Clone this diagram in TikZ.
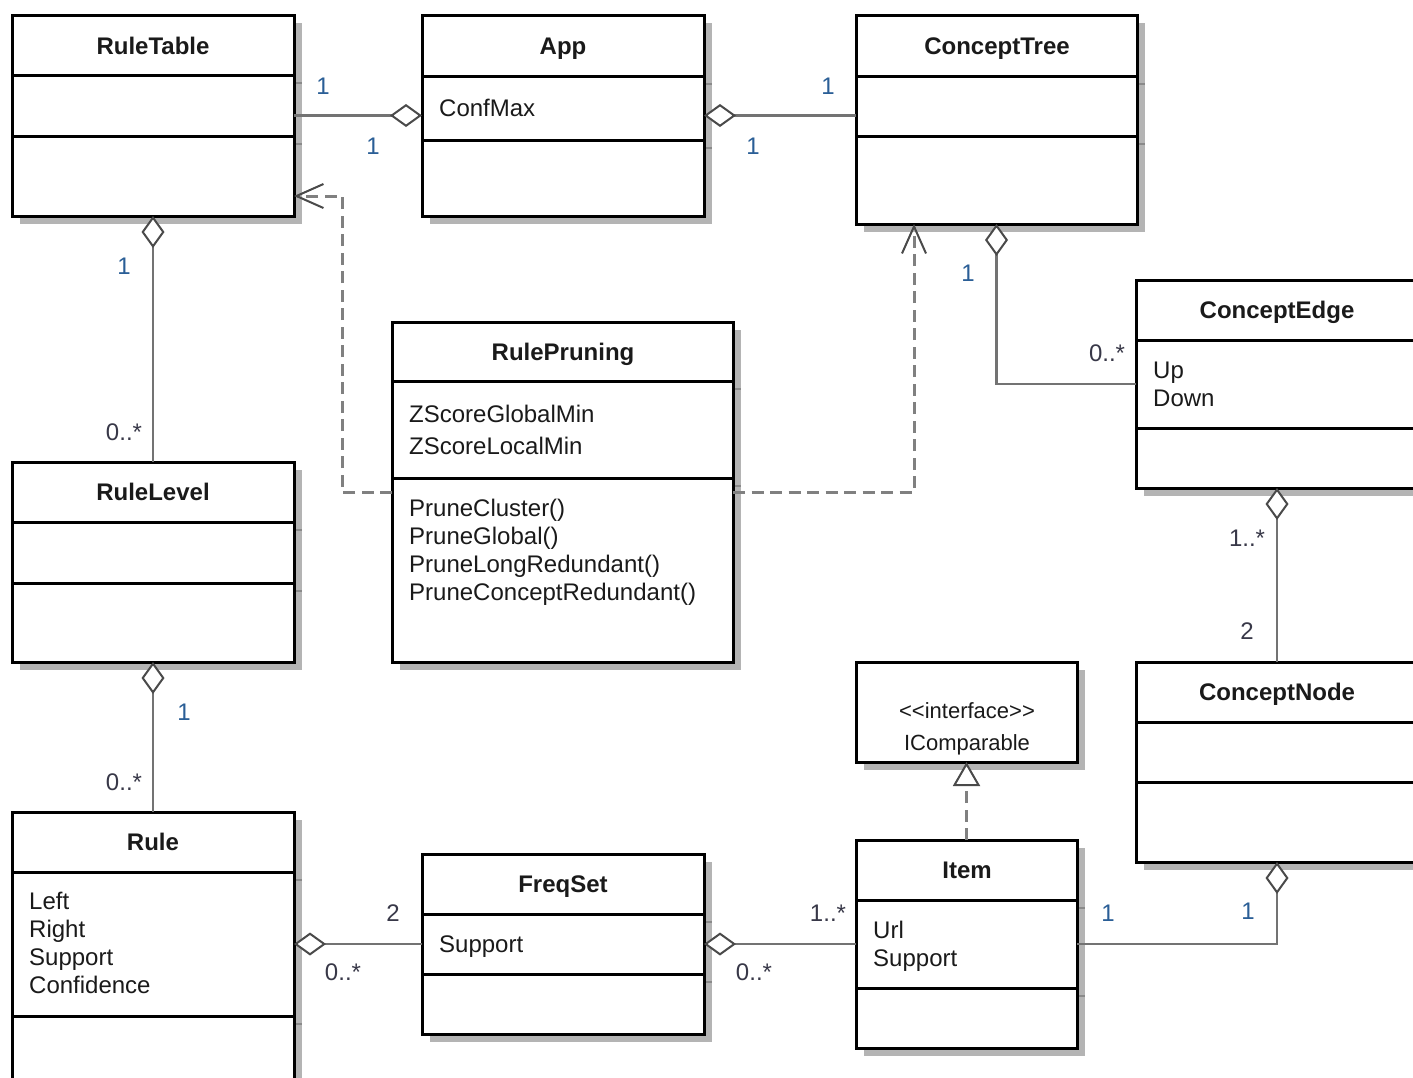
\documentclass[tikz,border=0pt]{standalone}
\usepackage{fontspec}
\setmainfont{Liberation Sans}
\usetikzlibrary{arrows.meta}
\definecolor{shadowc}{HTML}{B4B4B4}
\definecolor{tickc}{HTML}{8A8A8A}
\definecolor{linec}{HTML}{737373}
\definecolor{depc}{HTML}{808080}
\definecolor{tipc}{HTML}{4A4A4A}
\definecolor{txt}{HTML}{1A1A1A}
\definecolor{multblue}{HTML}{2A5E96}
\definecolor{multgray}{HTML}{383848}
\tikzset{
  classbox/.style={draw=black, line width=3pt, fill=white, inner sep=0pt, outer sep=0pt, anchor=north west},
  compline/.style={draw=black, line width=3pt},
  shadowtick/.style={draw=tickc, line width=1.5pt},
  titletext/.style={font=\fontsize{24}{28}\selectfont\bfseries, text=txt, anchor=base, inner sep=0pt},
  attrtext/.style={font=\fontsize{24}{28}\selectfont, text=txt, anchor=base west, inner sep=0pt},
  ifacetext/.style={font=\fontsize{22}{26}\selectfont, text=txt, anchor=base, inner sep=0pt},
  multone/.style={font=\fontsize{24}{28}\selectfont, text=multblue, anchor=base, inner sep=0pt},
  multoth/.style={font=\fontsize{24}{28}\selectfont, text=multgray, anchor=base, inner sep=0pt},
  assoc/.style={draw=linec, line width=2.5pt},
  aggS/.style={assoc, arrows={Diamond[length=32pt,width=23pt,fill=white,color=tipc,line width=2pt]-}},
  aggE/.style={assoc, arrows={-Diamond[length=32pt,width=23pt,fill=white,color=tipc,line width=2pt]}},
  dep/.style={draw=depc, line width=3pt, dash pattern=on 12pt off 6.5pt,
    arrows={-Straight Barb[length=27pt,width=24pt,color=tipc,line width=2pt]}},
  realize/.style={draw=depc, line width=3pt, dash pattern=on 12pt off 6.5pt,
    arrows={-Triangle[length=24pt,width=27pt,fill=white,color=tipc,line width=2pt]}},
}
\newcommand\umlclass[7]{%
  \fill[shadowc] (#2+8,#3+8) rectangle ++(#4,#5);
  \draw[shadowtick] (#2+#4,#6+8) -- ++(8,0);
  \draw[shadowtick] (#2+#4,#7+8) -- ++(8,0);
  \node[classbox, minimum width=#4pt, minimum height=#5pt] (#1) at (#2,#3) {};
  \draw[compline] (#2,#6) -- ++(#4,0);
  \draw[compline] (#2,#7) -- ++(#4,0);
}
\begin{document}
\begin{tikzpicture}[x=1pt,y=-1pt]
\clip (0,0) rectangle (1413,1077);
\fill[white] (0,0) rectangle (1413,1077);

% classes
\umlclass{ruletable}{12}{15}{282}{201}{75}{136}
\umlclass{app}{422}{15}{282}{201}{76}{140}
\umlclass{concepttree}{856}{15}{281}{209}{76}{136}
\umlclass{rulepruning}{392}{322}{341}{340}{381}{478}
\umlclass{conceptedge}{1136}{280}{282}{208}{340}{428}
\umlclass{rulelevel}{12}{462}{282}{200}{522}{583}
\umlclass{conceptnode}{1136}{662}{282}{200}{722}{782}
\umlclass{item}{856}{840}{221}{208}{900}{988}
\umlclass{rule}{12}{812}{282}{278}{872}{1016}
\umlclass{freqset}{422}{854}{282}{180}{914}{974}
% interface box
\fill[shadowc] (864,670) rectangle ++(221,100);
\node[classbox, minimum width=221pt, minimum height=100pt] (icomp) at (856,662) {};

% titles and members
\node[titletext] (t-ruletable) at (153,54) {RuleTable};
\node[titletext] (t-app) at (563,54) {App};
\node[attrtext] (a-app) at (439,116) {ConfMax};
\node[titletext] (t-concepttree) at (997,54) {ConceptTree};
\node[titletext] (t-rulepruning) at (563,360) {RulePruning};
\node[attrtext] (a-rp1) at (409,422) {ZScoreGlobalMin};
\node[attrtext] (a-rp2) at (409,454) {ZScoreLocalMin};
\node[attrtext] (o-rp1) at (409,516) {PruneCluster()};
\node[attrtext] (o-rp2) at (409,544) {PruneGlobal()};
\node[attrtext] (o-rp3) at (409,572) {PruneLongRedundant()};
\node[attrtext] (o-rp4) at (409,600) {PruneConceptRedundant()};
\node[titletext] (t-conceptedge) at (1277,318) {ConceptEdge};
\node[attrtext] (a-ce1) at (1153,378) {Up};
\node[attrtext] (a-ce2) at (1153,406) {Down};
\node[titletext] (t-rulelevel) at (153,500) {RuleLevel};
\node[titletext] (t-conceptnode) at (1277,700) {ConceptNode};
\node[ifacetext] (s-icomp) at (967,718) {<{}<interface>{}>};
\node[ifacetext] (t-icomp) at (967,750) {IComparable};
\node[titletext] (t-item) at (967,878) {Item};
\node[attrtext] (a-it1) at (873,938) {Url};
\node[attrtext] (a-it2) at (873,966) {Support};
\node[titletext] (t-rule) at (153,850) {Rule};
\node[attrtext] (a-ru1) at (29,909) {Left};
\node[attrtext] (a-ru2) at (29,937) {Right};
\node[attrtext] (a-ru3) at (29,965) {Support};
\node[attrtext] (a-ru4) at (29,993) {Confidence};
\node[titletext] (t-freqset) at (563,892) {FreqSet};
\node[attrtext] (a-fs1) at (439,952) {Support};

% connectors
\coordinate (dl) at (342,196);
\coordinate (dr) at (914,0);
\draw[aggE] (ruletable.east |- app.west) -- (app.west);
\draw[aggS] (app.east) -- (app.east -| concepttree.west);
\draw[aggS] (ruletable.south) -- (rulelevel.north);
\draw[aggS] (rulelevel.south) -- (rule.north);
\draw[aggS] (concepttree.south) |- (conceptedge.west);
\draw[aggS] (conceptedge.south) -- (conceptnode.north);
\draw[aggS] (rule.east |- freqset.west) -- (freqset.west);
\draw[aggS] (freqset.east) -- (item.west);
\draw[aggS] (conceptnode.south) |- (item.east);
\draw[realize] (item.north) -- (icomp.south);
\draw[dep] (rulepruning.west) -| (dl) -- (dl -| ruletable.east);
\draw[dep] (rulepruning.east) -| (dr |- concepttree.south);

% multiplicities
\node[multone] (m1) at (323,94) {1};
\node[multone] (m2) at (373,154) {1};
\node[multone] (m3) at (753,154) {1};
\node[multone] (m4) at (828,94) {1};
\node[multone] (m5) at (124,274) {1};
\node[multoth] (m6) at (124,440) {0..*};
\node[multone] (m7) at (184,720) {1};
\node[multoth] (m8) at (124,790) {0..*};
\node[multone] (m9) at (968,281) {1};
\node[multoth] (m10) at (1107,361) {0..*};
\node[multoth] (m11) at (1247,546) {1..*};
\node[multoth] (m12) at (1247,639) {2};
\node[multoth] (m13) at (393,921) {2};
\node[multoth] (m14) at (343,980) {0..*};
\node[multoth] (m15) at (828,921) {1..*};
\node[multoth] (m16) at (754,980) {0..*};
\node[multone] (m17) at (1108,921) {1};
\node[multone] (m18) at (1248,919) {1};
\end{tikzpicture}
\end{document}
